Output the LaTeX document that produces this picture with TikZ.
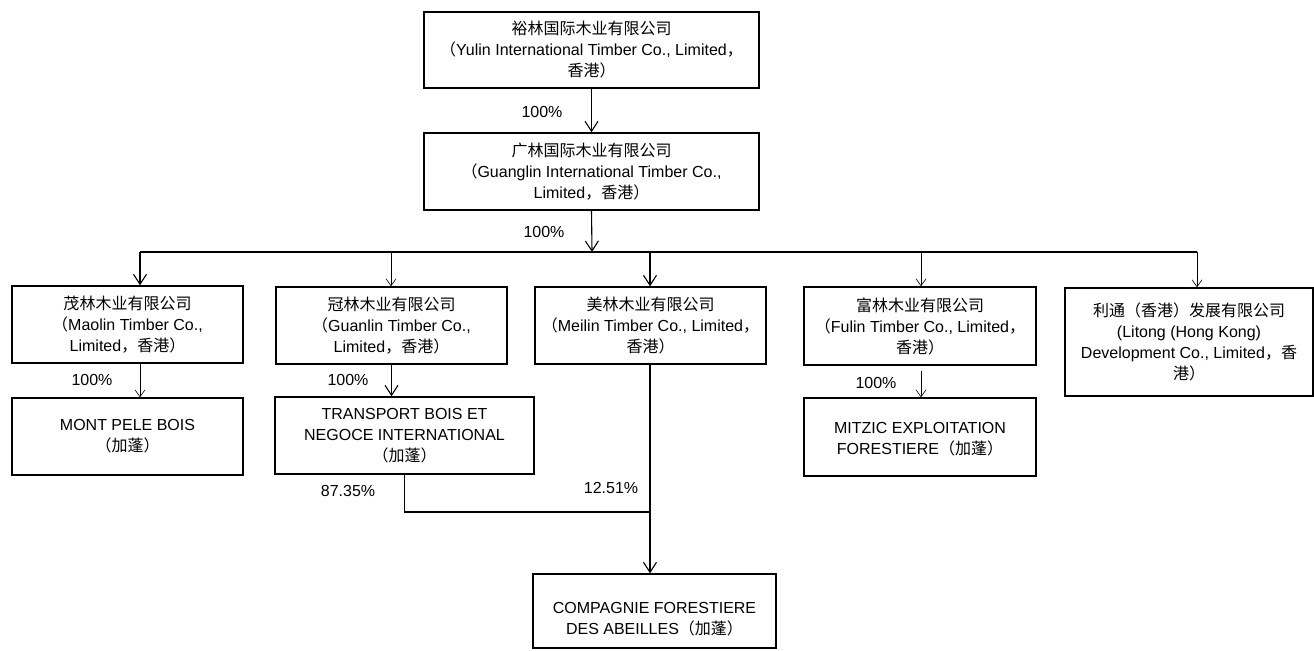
\documentclass[tikz,border=0pt]{standalone}
\usepackage{fontspec}
\setmainfont{Liberation Sans}
\newfontfamily\cjk{Noto Sans CJK SC}
\usetikzlibrary{arrows.meta}
\newcommand{\zh}[1]{{\cjk #1}}
\begin{document}
\begin{tikzpicture}[x=1bp,y=-1bp,
  box/.style={draw, line width=1.4bp, align=center, inner sep=0pt,
    font=\fontsize{16bp}{21bp}\selectfont},
  conn/.style={line width=1.1bp, -{Straight Barb[length=10bp,width=13bp,line width=1.1bp]}},
  faint/.style={line width=0.5bp, -{Straight Barb[length=7bp,width=10bp,line width=0.6bp]}},
  bus/.style={line width=1.7bp},
  pct/.style={font=\fontsize{16bp}{20bp}\selectfont, inner sep=0pt}]
\useasboundingbox (0,0) rectangle (1314,651);

% top level
\node[box, minimum width=335bp, minimum height=76bp] (yulin) at (591.5,50)
  {\zh{裕林国际木业有限公司}\\\zh{（}Yulin International Timber Co., Limited\zh{，}\\\zh{香港）}};
\node[box, minimum width=335bp, minimum height=77bp] (guanglin) at (591.5,171.5)
  {\zh{广林国际木业有限公司}\\\zh{（}Guanglin International Timber Co.,\\Limited\zh{，香港）}};

% second row
\node[box, minimum width=231bp, minimum height=77bp] (maolin) at (127.5,324.5)
  {\zh{茂林木业有限公司}\\\zh{（}Maolin Timber Co.,\\Limited\zh{，香港）}};
\node[box, minimum width=231bp, minimum height=77bp] (guanlin) at (391.5,325.5)
  {\zh{冠林木业有限公司}\\\zh{（}Guanlin Timber Co.,\\Limited\zh{，香港）}};
\node[box, minimum width=231bp, minimum height=77bp] (meilin) at (650.5,325.5)
  {\zh{美林木业有限公司}\\\zh{（}Meilin Timber Co., Limited\zh{，}\\\zh{香港）}};
\node[box, minimum width=232bp, minimum height=78bp] (fulin) at (920,326)
  {\zh{富林木业有限公司}\\\zh{（}Fulin Timber Co., Limited\zh{，}\\\zh{香港）}};
\node[box, minimum width=248bp, minimum height=108bp] (litong) at (1189,342)
  {\zh{利通（香港）发展有限公司}\\(Litong (Hong Kong)\\Development Co., Limited\zh{，香}\\\zh{港）}};

% third row
\node[box, minimum width=231bp, minimum height=77bp] (mont) at (127.5,436.5)
  {MONT PELE BOIS\\\zh{（加蓬）}};
\node[box, minimum width=259bp, minimum height=77bp] (transport) at (404.5,435.5)
  {TRANSPORT BOIS ET\\NEGOCE INTERNATIONAL\\\zh{（加蓬）}};
\node[box, minimum width=232bp, minimum height=78bp] (mitzic) at (920,437)
  {\rule{0pt}{16bp}MITZIC EXPLOITATION\\FORESTIERE\zh{（加蓬）}};

% bottom
\node[box, minimum width=243bp, minimum height=74bp] (cfa) at (654.5,611)
  {\rule{0pt}{28bp}COMPAGNIE FORESTIERE\\DES ABEILLES\zh{（加蓬）}};

% bus
\coordinate (busL) at (140,252);
\coordinate (busR) at (1197,252);
\coordinate (busM) at (592,252);
\draw[bus] (busL) -- (busR);

% connectors
\draw[conn] (yulin.south) -- (guanglin.north);
\draw[conn] (guanglin.south) -- (busM);
\draw[conn] (busL) -- (busL |- maolin.north);
\draw[faint] (391,252) -- (guanlin.north -| 391,0);
\draw[conn] (650,252) -- (meilin.north -| 650,0);
\draw[faint] (921,252) -- (fulin.north -| 921,0);
\draw[faint] (busR) -- (litong.north -| busR);

\draw[faint] (maolin.south -| 140,0) -- (mont.north -| 140,0);
\draw[conn] (guanlin.south) -- (transport.north -| guanlin.south);
\draw[faint] (fulin.south -| 921,0) ++(0,5) -- (mitzic.north -| 921,0);

\coordinate (join) at (650,512);
\draw[line width=1.1bp] (transport.south) -- (transport.south |- join) -- (join);
\draw[conn] (meilin.south -| 650,0) -- (cfa.north -| 650,0);

% percentages
\node[pct] (p1) at (542,112) {100\%};
\node[pct] (p2) at (544,232) {100\%};
\node[pct] (p3) at (92,380) {100\%};
\node[pct] (p4) at (348,380) {100\%};
\node[pct] (p5) at (876,383) {100\%};
\node[pct] (p6) at (348,491) {87.35\%};
\node[pct] (p7) at (611,488) {12.51\%};
\end{tikzpicture}
\end{document}
